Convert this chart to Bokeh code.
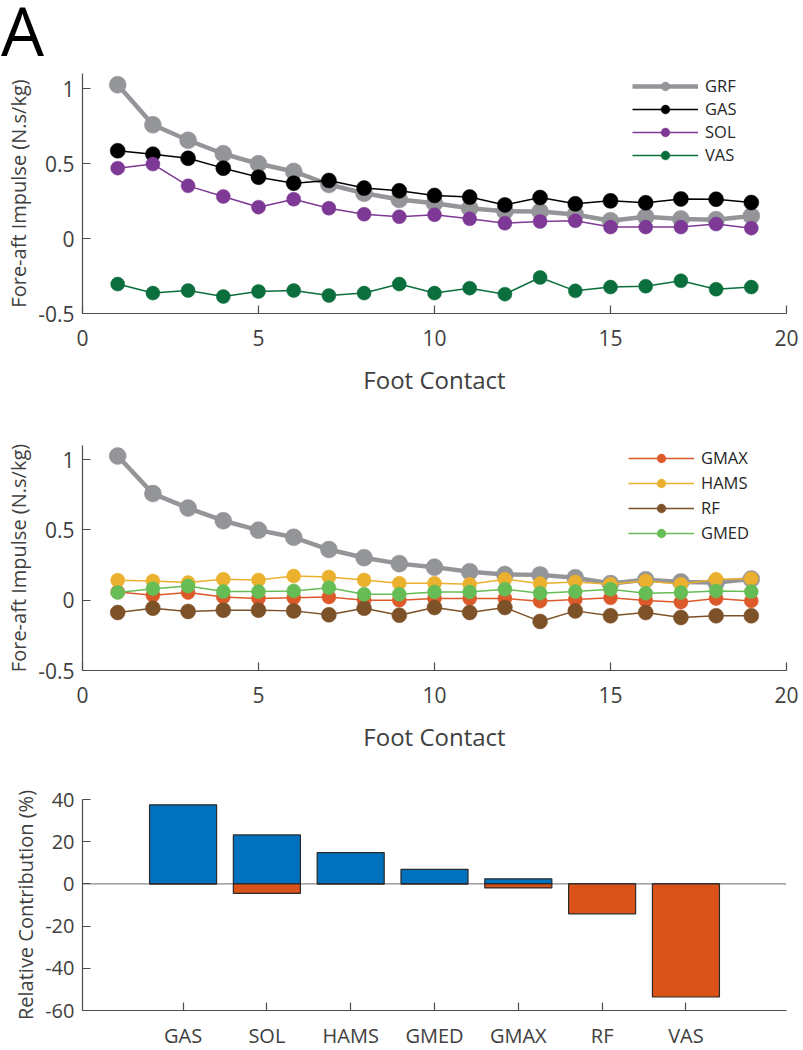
from bokeh.plotting import figure
from bokeh.layouts import column
from bokeh.models import (Range1d, FixedTicker, CustomJSTickFormatter, Legend,
                          LegendItem, Span, Div)
from bokeh.embed import file_html
from bokeh.resources import INLINE

# ---------------- data ----------------
contact = list(range(1, 20))
grf = [1.025, 0.758, 0.655, 0.565, 0.498, 0.447, 0.36, 0.302, 0.26, 0.235,
       0.202, 0.182, 0.18, 0.16, 0.118, 0.145, 0.13, 0.125, 0.15]
gas = [0.585, 0.562, 0.535, 0.469, 0.409, 0.369, 0.387, 0.336, 0.318, 0.287,
       0.276, 0.224, 0.273, 0.231, 0.251, 0.238, 0.264, 0.262, 0.24]
sol = [0.469, 0.496, 0.351, 0.28, 0.209, 0.262, 0.202, 0.162, 0.145, 0.158,
       0.131, 0.102, 0.113, 0.118, 0.076, 0.076, 0.076, 0.096, 0.069]
vas = [-0.304, -0.364, -0.347, -0.387, -0.353, -0.347, -0.38, -0.364, -0.304,
       -0.364, -0.331, -0.371, -0.26, -0.349, -0.324, -0.318, -0.282, -0.338,
       -0.324]

gmax = [0.059, 0.035, 0.054, 0.023, 0.012, 0.017, 0.023, 0.0, 0.0, 0.012,
        0.012, 0.012, -0.007, 0.005, 0.017, -0.002, -0.014, 0.012, -0.005]
hams = [0.142, 0.137, 0.125, 0.149, 0.144, 0.172, 0.165, 0.144, 0.12, 0.12,
        0.113, 0.149, 0.118, 0.13, 0.113, 0.137, 0.113, 0.149, 0.153]
rf = [-0.088, -0.057, -0.08, -0.071, -0.071, -0.076, -0.104, -0.057, -0.107,
      -0.052, -0.088, -0.052, -0.151, -0.076, -0.111, -0.088, -0.123, -0.111,
      -0.111]
gmed = [0.054, 0.082, 0.101, 0.061, 0.061, 0.066, 0.089, 0.042, 0.042, 0.059,
        0.059, 0.078, 0.05, 0.061, 0.078, 0.05, 0.054, 0.066, 0.061]

muscles = ["GAS", "SOL", "HAMS", "GMED", "GMAX", "RF", "VAS"]
positive = [37.5, 23.2, 14.8, 6.9, 2.4, 0.0, 0.0]
negative = [0.0, -4.5, 0.0, 0.0, -1.9, -14.2, -53.6]

line_ticks = [0, 5, 10, 15, 20]
imp_ticks = [-0.5, 0, 0.5, 1]
rel_ticks = [-60, -40, -20, 0, 20, 40]
panel_letter = "A"

# ---------------- style ----------------
FONT = "Open Sans"
AX = "#4d4d4d"
TXT = "#404040"
C = {"GRF": "#939598", "GAS": "#000000", "SOL": "#7D3995", "VAS": "#0A6F3D",
     "GMAX": "#DC5A2A", "HAMS": "#EBB02E", "RF": "#7E5228", "GMED": "#67BD55"}
fmt = CustomJSTickFormatter(code="return String(tick)")
W = 800
HEAD_H = 64


def style(p, tick_size="21px"):
    p.grid.visible = False
    p.outline_line_color = None
    p.background_fill_color = "white"
    p.border_fill_color = "white"
    for ax in (p.xaxis[0], p.yaxis[0]):
        ax.axis_line_color = AX
        ax.axis_line_width = 1.2
        ax.major_tick_line_color = AX
        ax.major_tick_line_width = 1.2
        ax.major_tick_in = 8
        ax.major_tick_out = 0
        ax.minor_tick_line_color = None
        ax.major_label_text_font = FONT
        ax.major_label_text_font_size = tick_size
        ax.major_label_text_color = TXT
        ax.axis_label_text_font = FONT
        ax.axis_label_text_font_style = "normal"
        ax.axis_label_text_color = TXT
    p.yaxis[0].major_label_standoff = 8
    p.yaxis[0].axis_label_standoff = 3
    p.yaxis[0].axis_label_text_font_size = "20px"
    p.xaxis[0].axis_label_text_font_size = "24px"


def line_fig(height, top, bottom):
    p = figure(width=W, height=height, output_backend="svg",
               toolbar_location=None, x_range=Range1d(0, 20),
               y_range=Range1d(-0.5, 1.1), min_border_left=82,
               min_border_right=W - 786, min_border_top=top,
               min_border_bottom=bottom)
    style(p)
    p.xaxis.ticker = FixedTicker(ticks=line_ticks)
    p.yaxis.ticker = FixedTicker(ticks=imp_ticks)
    p.yaxis.formatter = fmt
    p.xaxis.formatter = fmt
    p.xaxis.major_label_standoff = 16
    p.xaxis.axis_label_standoff = 14
    p.xaxis.axis_label = "Foot Contact"
    p.yaxis.axis_label = "Fore-aft Impulse (N.s/kg)"
    return p


def series(p, name, ys, lw, size):
    r1 = p.line(contact, ys, line_color=C[name], line_width=lw)
    r2 = p.scatter(contact, ys, size=size, fill_color=C[name],
                   line_color=C[name], line_width=0.5)
    return LegendItem(label=name, renderers=[r1, r2])


def add_legend(p, items, loc, spacing):
    leg = Legend(items=items, location=loc, padding=0, spacing=spacing,
                 glyph_width=66, glyph_height=22, label_height=23,
                 label_standoff=7, label_text_font=FONT,
                 label_text_font_size="16.5px", label_text_color="#262626",
                 border_line_color=None, background_fill_alpha=0)
    p.add_layout(leg, "center")


# ---- panel letter ----
head = Div(text=panel_letter, width=W, height=HEAD_H,
           styles={"font-family": "Open Sans", "font-size": "68px",
                   "line-height": "68px", "color": "black",
                   "margin-left": "1px", "margin-top": "-4px"})

# ---- top ----
p1 = line_fig(336, 8, 88)
items = [series(p1, "GRF", grf, 4.5, 17),
         series(p1, "GAS", gas, 1.5, 15),
         series(p1, "SOL", sol, 1.5, 14),
         series(p1, "VAS", vas, 1.5, 14)]
add_legend(p1, items, (550, 147), 0)

# ---- middle ----
p2 = line_fig(360, 44, 91)
series(p2, "GRF", grf, 4.5, 17)
items2 = [series(p2, "GMAX", gmax, 1.5, 14),
          series(p2, "HAMS", hams, 1.5, 14),
          series(p2, "RF", rf, 1.5, 15),
          series(p2, "GMED", gmed, 1.5, 14)]
add_legend(p2, items2, (546, 126), 2)

# ---- bottom ----
p3 = figure(width=W, height=290, output_backend="svg", toolbar_location=None,
            x_range=Range1d(-0.2, 8.2), y_range=Range1d(-60, 40),
            min_border_left=82, min_border_right=W - 786, min_border_top=38,
            min_border_bottom=40)
style(p3, "20px")
idx = list(range(1, len(muscles) + 1))
p3.add_layout(Span(location=0, dimension="width", line_color="#8a8a8a",
                   line_width=1.2, level="underlay"))
p3.vbar(x=idx, width=0.8, bottom=0, top=positive, fill_color="#0072BD",
        line_color="#2a2a2a", line_width=1.2)
p3.vbar(x=idx, width=0.8, bottom=0, top=negative, fill_color="#D95319",
        line_color="#2a2a2a", line_width=1.2)
p3.xaxis.ticker = FixedTicker(ticks=idx)
p3.xaxis.major_label_overrides = {i: m for i, m in zip(idx, muscles)}
p3.xaxis.major_label_standoff = 11
p3.yaxis.ticker = FixedTicker(ticks=rel_ticks)
p3.yaxis.formatter = fmt
p3.yaxis.axis_label = "Relative Contribution (%)"

page = column(head, p1, p2, p3, spacing=0)
open("out.html", "w").write(file_html(page, INLINE))
